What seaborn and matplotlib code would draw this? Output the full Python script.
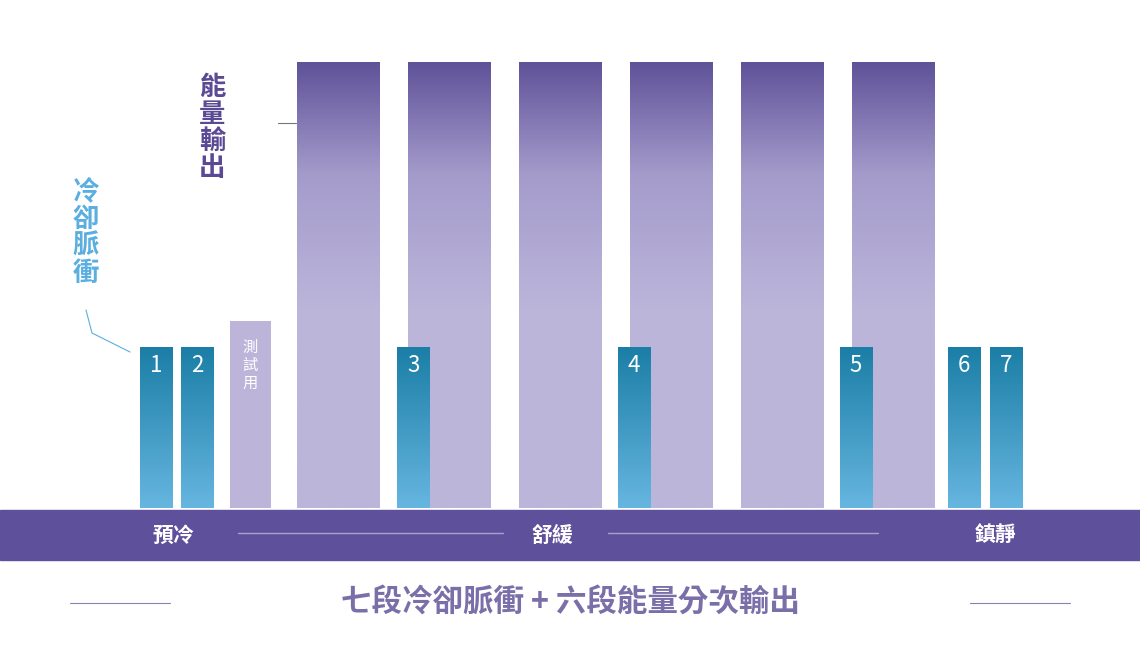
import numpy as np
import matplotlib
matplotlib.use("Agg")
import matplotlib.pyplot as plt
from matplotlib.colors import LinearSegmentedColormap
import seaborn as sns

sns.set_theme(style="white")
plt.rcParams["font.family"] = "Noto Sans CJK TC"

# data
pulse_labels = ["1", "2", "3", "4", "5", "6", "7"]
pulse_time = [156, 197, 413, 634, 856, 964, 1006]
pulse_level = [36, 36, 36, 36, 36, 36, 36]
test_time = [250]
test_level = [42]
energy_time = [338, 449, 560, 671, 782, 893]
energy_level = [100, 100, 100, 100, 100, 100]
phase_labels = ["預冷", "舒緩", "鎮靜"]
phase_pos = [173, 552, 995]

PX = 4.46  # pixels per unit
fig = plt.figure(figsize=(11.4, 6.5), dpi=100)
ax = fig.add_axes([0, 0, 1, 1])
ax.set_xlim(0, 1140)
ax.set_ylim(-142 / PX, 508 / PX)
ax.axis("off")

def yv(px):  # pixel row -> data value
    return (508 - px) / PX

energy_cmap = LinearSegmentedColormap.from_list(
    "e", [(0, "#bbb5da"), (0.45, "#bbb5da"), (0.75, "#a49bcb"), (1, "#5f5299")])
blue_cmap = LinearSegmentedColormap.from_list("b", [(0, "#66b6e0"), (1, "#1b7ea6")])
grad = np.linspace(0, 1, 256).reshape(-1, 1)

def grad_bars(xs, hs, width, cmap):
    bars = ax.bar(xs, hs, width=width, bottom=0, color="none", linewidth=0, zorder=2)
    for b in bars:
        x0, w, h = b.get_x(), b.get_width(), b.get_height()
        im = ax.imshow(grad, cmap=cmap, aspect="auto", origin="lower",
                       extent=[x0, x0 + w, 0, h], zorder=2)
        im.set_clip_path(b)
    return bars

grad_bars(energy_time, energy_level, 83, energy_cmap)
ax.bar(test_time, test_level, width=41, color="#bcb5d9", linewidth=0, zorder=2)
grad_bars(pulse_time, pulse_level, 33, blue_cmap)

for x, lab, h in zip(pulse_time, pulse_labels, pulse_level):
    ax.text(x, h - 4, lab, color="white", fontsize=16, ha="center", va="center", zorder=4)
ax.text(test_time[0], test_level[0] - 10, "測\n試\n用", color="white", fontsize=11,
        ha="center", va="center", linespacing=1.05, zorder=4)

# band
ax.axhspan(yv(560), yv(510), color="#5f509c", zorder=1)
for x, lab in zip(phase_pos, phase_labels):
    ax.text(x, yv(535), lab, color="white", fontsize=15, fontweight="bold",
            ha="center", va="center", zorder=4)
ax.plot([238, 503], [yv(533)] * 2, color="#a99fd0", lw=1, zorder=3)
ax.plot([608, 878], [yv(533)] * 2, color="#a99fd0", lw=1, zorder=3)

# side labels
ax.text(212, yv(128), "能\n量\n輸\n出", color="#5a4a94", fontsize=19, fontweight="bold",
        ha="center", va="center", linespacing=1.0)
ax.plot([278, 296], [yv(123)] * 2, color="#777777", lw=0.8)
ax.text(86, yv(233), "冷\n卻\n脈\n衝", color="#5aaee0", fontsize=19, fontweight="bold",
        ha="center", va="center", linespacing=1.0)
ax.plot([86, 92, 130], [yv(310), yv(333), yv(352)], color="#5aaee0", lw=0.8)

# title
ax.text(570, yv(603), "七段冷卻脈衝 + 六段能量分次輸出", color="#7a6fa8", fontsize=22,
        fontweight="bold", ha="center", va="center")
ax.plot([70, 170], [yv(603)] * 2, color="#8a80b8", lw=0.8)
ax.plot([970, 1070], [yv(603)] * 2, color="#8a80b8", lw=0.8)

fig.savefig("out.png", dpi=100, facecolor="white")
